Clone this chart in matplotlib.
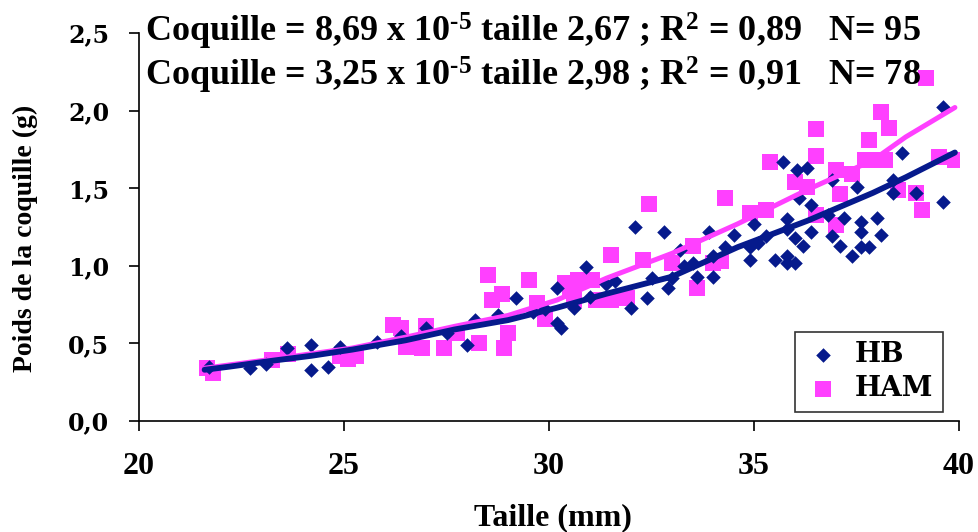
import matplotlib
matplotlib.use("Agg")
import matplotlib.pyplot as plt
from matplotlib.ticker import FuncFormatter

# ---- data ----
hb_x = [21.7, 22.7, 23.1, 23.6, 24.2, 24.2, 24.6, 24.9, 25.8, 26.4, 27.0, 27.5, 28.0, 28.2,
        28.75, 29.2, 29.6, 29.9, 30.2, 30.2, 30.3, 30.6, 30.9, 31.0, 31.4, 31.6, 32.0, 32.4,
        32.5, 32.9, 33.0, 32.1, 32.8, 33.2, 33.3, 33.6, 34.0, 33.9, 33.5, 34.0, 34.5, 34.3,
        34.9, 34.9, 35.0, 35.1, 35.3, 35.5, 35.8, 36.0, 35.8, 35.8, 35.8, 36.0, 36.2, 36.4,
        35.7, 36.05, 36.3, 36.1, 36.4, 36.8, 37.2, 36.9, 37.1, 37.4, 37.5, 36.9, 37.6, 38.0,
        37.6, 38.1, 37.6, 37.8, 38.4, 38.4, 38.6, 38.95, 39.6, 39.6]
hb_y = [0.35, 0.34, 0.37, 0.47, 0.49, 0.33, 0.35, 0.48, 0.51, 0.55, 0.60, 0.57, 0.49, 0.65,
        0.68, 0.79, 0.70, 0.72, 0.86, 0.63, 0.60, 0.73, 0.99, 0.80, 0.88, 0.90, 0.73, 0.79,
        0.92, 0.86, 0.92, 1.25, 1.22, 1.10, 1.00, 0.93, 0.93, 1.22, 1.02, 1.06, 1.20, 1.12,
        1.04, 1.12, 1.27, 1.15, 1.19, 1.04, 1.02, 1.02, 1.06, 1.30, 1.24, 1.18, 1.13, 1.22,
        1.67, 1.62, 1.63, 1.44, 1.39, 1.33, 1.31, 1.19, 1.13, 1.06, 1.51, 1.55, 1.28, 1.31,
        1.22, 1.20, 1.12, 1.12, 1.55, 1.47, 1.73, 1.47, 2.02, 1.41]

ham_x = [21.66, 21.8, 23.24, 23.63, 24.9, 25.1, 25.3, 26.2, 26.4, 26.5, 27.0, 26.9, 27.45,
         27.75, 28.5, 28.6, 28.85, 28.3, 28.9, 29.0, 29.5, 29.7, 29.9, 30.4, 30.7, 31.05,
         30.6, 30.5, 31.5, 31.15, 31.5, 31.9, 32.3, 32.45, 33.0, 33.5, 33.6, 34.0, 34.2,
         34.3, 34.9, 35.3, 35.4, 36.0, 36.3, 36.5, 36.5, 36.5, 37.0, 37.1, 37.0, 37.4, 37.7,
         37.8, 38.0, 38.2, 38.1, 38.3, 38.5, 38.95, 39.1, 39.5, 39.9, 39.2]
ham_y = [0.34, 0.31, 0.39, 0.43, 0.42, 0.40, 0.42, 0.62, 0.60, 0.48, 0.61, 0.47, 0.47,
         0.57, 0.94, 0.78, 0.82, 0.50, 0.47, 0.57, 0.91, 0.76, 0.66, 0.89, 0.91, 0.91,
         0.78, 0.84, 1.07, 0.78, 0.78, 0.79, 1.04, 1.40, 1.02, 1.13, 0.86, 1.02, 1.03,
         1.44, 1.34, 1.36, 1.67, 1.54, 1.51, 1.88, 1.71, 1.33, 1.62, 1.46, 1.26, 1.59, 1.68,
         1.81, 1.68, 1.68, 1.99, 1.89, 1.49, 1.47, 1.36, 1.70, 1.68, 2.21]

hb_line_x = [21.6, 22.2, 23.3, 24.2, 25.2, 26.5, 27.7, 29.0, 30.2, 31.4, 33.0, 34.6, 36.3, 37.9, 38.7, 39.9]
hb_line_y = [0.33, 0.35, 0.39, 0.42, 0.46, 0.52, 0.59, 0.65, 0.73, 0.82, 0.93, 1.12, 1.29, 1.47, 1.57, 1.73]
ham_line_x = [21.6, 23.3, 25.2, 26.5, 27.7, 29.0, 30.2, 31.4, 33.0, 34.6, 36.3, 37.9, 38.7, 39.9]
ham_line_y = [0.34, 0.40, 0.47, 0.54, 0.61, 0.68, 0.78, 0.92, 1.08, 1.27, 1.49, 1.68, 1.83, 2.02]

x_ticks = [20, 25, 30, 35, 40]
y_ticks = [0.0, 0.5, 1.0, 1.5, 2.0, 2.5]
series_names = ["HB", "HAM"]
eq_lines = [r"Coquille = 8,69 x 10$^{\text{-5}}$ taille 2,67 ; R$^{\text{2}}$ = 0,89   N= 95",
            r"Coquille = 3,25 x 10$^{\text{-5}}$ taille 2,98 ; R$^{\text{2}}$ = 0,91   N= 78"]

NAVY = "#061A8C"
PINK = "#FF40FF"

plt.rcParams['font.weight'] = 'bold'
plt.rcParams['mathtext.fontset'] = 'custom'
plt.rcParams['mathtext.rm'] = 'Liberation Serif:bold'
plt.rcParams['mathtext.bf'] = 'Liberation Serif:bold'
plt.rcParams['mathtext.it'] = 'Liberation Serif:bold'

fig = plt.figure(figsize=(9.79, 5.32), dpi=100)
ax = fig.add_axes([139/979, 1-421/532, (959-139)/979, (421-33)/532])

ax.scatter(hb_x, hb_y, marker='D', s=55, color=NAVY, linewidths=0, zorder=4, label=series_names[0])
ax.scatter(ham_x, ham_y, marker='s', s=125, color=PINK, linewidths=0, zorder=3, label=series_names[1])
ax.plot(ham_line_x, ham_line_y, color=PINK, lw=3.6, solid_capstyle='round', zorder=5)
ax.plot(hb_line_x, hb_line_y, color=NAVY, lw=4.2, solid_capstyle='round', zorder=6)

ax.set_xlim(20, 40)
ax.set_ylim(0, 2.5)
ax.set_xticks(x_ticks)
ax.set_yticks(y_ticks)
ax.yaxis.set_major_formatter(FuncFormatter(lambda v, p: f"{v:.1f}".replace('.', ',')))
ax.xaxis.set_major_formatter(FuncFormatter(lambda v, p: f"{int(v)}"))
for s in ['top', 'right']:
    ax.spines[s].set_visible(False)
for s in ['left', 'bottom']:
    ax.spines[s].set_linewidth(1.2)
    ax.spines[s].set_color('black')
ax.tick_params(axis='both', direction='out', length=7.5, width=1.2, color='black')
ax.tick_params(axis='x', pad=15, labelsize=23, labelfontfamily='Liberation Serif')
ax.tick_params(axis='y', pad=14, labelsize=17, labelfontfamily='DejaVu Serif')

fig.text(553/979, 1-518/532, "Taille (mm)", ha='center', va='center',
         fontfamily='Liberation Serif', fontweight='bold', fontsize=23)
fig.text(25/979, 1-238/532, "Poids de la coquille (g)", rotation=90, ha='center', va='center',
         fontfamily='Liberation Serif', fontweight='bold', fontsize=20)

fig.text(145/979, 1-31/532, eq_lines[0], ha='left', va='center',
         fontfamily='Liberation Serif', fontweight='bold', fontsize=26, zorder=1)
fig.text(145/979, 1-75/532, eq_lines[1], ha='left', va='center',
         fontfamily='Liberation Serif', fontweight='bold', fontsize=26, zorder=1)

leg = ax.legend(loc='lower right', bbox_to_anchor=(0.98, 0.023), frameon=True, fancybox=False,
                edgecolor='black', borderpad=0.35, handletextpad=0.5, labelspacing=0.25,
                prop={'family': 'DejaVu Serif', 'weight': 'bold', 'size': 20},
                markerscale=1.0, handlelength=1.3, borderaxespad=0)
leg.get_frame().set_linewidth(1.2)
leg.set_zorder(10)

fig.savefig("out.png", dpi=100)
